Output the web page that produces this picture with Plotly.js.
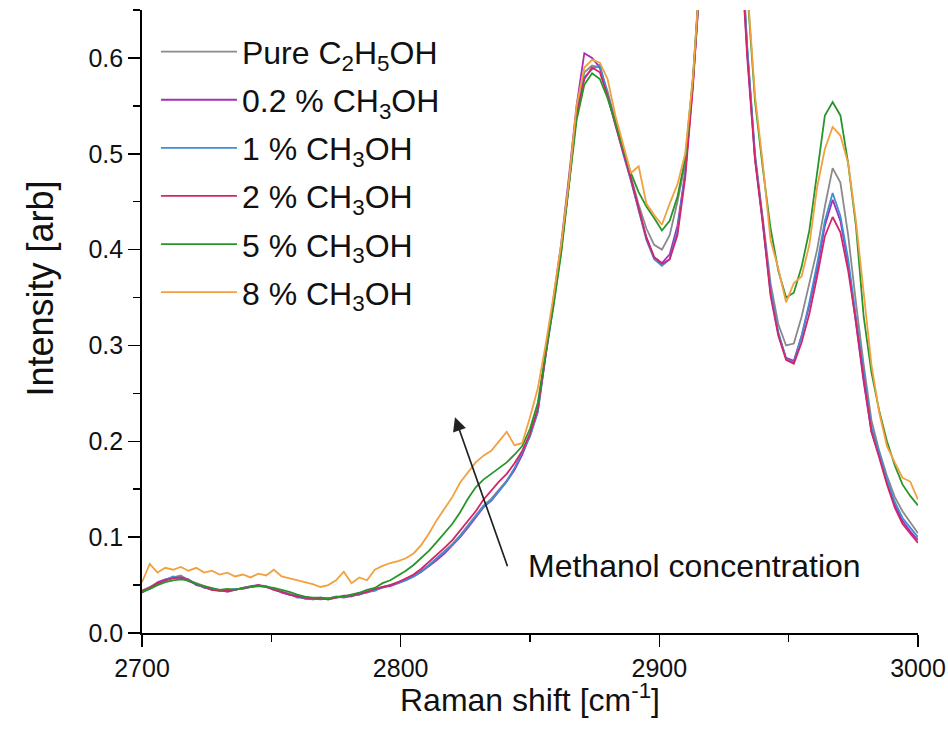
<!DOCTYPE html>
<html>
<head>
<meta charset="utf-8">
<script src="https://cdn.plot.ly/plotly-3.0.1.min.js"></script>
<style>html,body{margin:0;padding:0;background:#fff;}#chart{width:948px;height:736px;}</style>
</head>
<body>
<div id="chart"></div>
<script>
// Raman shift (cm^-1)
const ramanShift = [
2700,2703,2706,2709,2712,2715,2718,2721,2724,2727,2730,2733,2736,2739,2742,2745,2748,2751,2754,2757,2760,2763,2766,2769,2772,2775,2778,2781,2784,2787,2790,2793,2796,2799,
2802,2805,2808,2811,2814,2817,2820,2823,2826,2829,2832,2835,2838,2841,2844,2847,2850,
2853,2856,2859,2862,2865,2868,2871,2874,2877,2880,2883,2886,2889,2892,2895,2898,2901,
2904,2907,2910,2913,2916,2919,2922,2925,2928,2931,2934,2937,2940,2943,2946,2949,2952,
2955,2958,2961,2964,2967,2970,2973,2976,2979,2982,2985,2988,2991,2994,2997,3000];

const seriesNames = [
  "Pure C<sub>2</sub>H<sub>5</sub>OH",
  "0.2 % CH<sub>3</sub>OH",
  "1 % CH<sub>3</sub>OH",
  "2 % CH<sub>3</sub>OH",
  "5 % CH<sub>3</sub>OH",
  "8 % CH<sub>3</sub>OH"
];

const pureEthanol = [
0.044,0.048,0.052,0.055,0.058,0.060,0.055,0.052,0.049,0.046,0.045,0.044,0.046,0.046,0.048,0.050,0.049,0.045,0.043,0.040,0.038,0.036,0.035,0.037,0.035,0.037,0.038,0.038,0.041,0.042,0.045,0.047,0.050,0.053,
0.056,0.060,0.065,0.071,0.078,0.085,0.093,0.102,0.112,0.122,0.133,0.140,0.149,0.159,0.171,0.187,0.207,
0.232,0.290,0.345,0.400,0.468,0.545,0.585,0.592,0.590,0.565,0.535,0.505,0.476,0.447,0.422,0.405,0.400,
0.415,0.450,0.490,0.575,0.700,0.820,0.920,0.970,0.950,0.760,0.610,0.500,0.430,0.365,0.322,0.300,0.302,
0.330,0.365,0.400,0.445,0.485,0.470,0.415,0.345,0.280,0.222,0.190,0.164,0.142,0.127,0.115,0.104];

const meoh02 = [
0.042,0.047,0.053,0.056,0.058,0.058,0.056,0.050,0.048,0.045,0.045,0.043,0.045,0.047,0.049,0.050,0.048,0.046,0.042,0.040,0.039,0.036,0.036,0.035,0.036,0.038,0.037,0.039,0.040,0.043,0.045,0.048,0.049,0.052,
0.055,0.059,0.064,0.070,0.076,0.083,0.091,0.100,0.110,0.120,0.131,0.138,0.148,0.158,0.170,0.186,0.206,
0.232,0.290,0.345,0.405,0.475,0.550,0.605,0.600,0.590,0.562,0.532,0.503,0.474,0.443,0.413,0.392,0.386,
0.395,0.425,0.480,0.575,0.700,0.820,0.920,0.970,0.950,0.740,0.605,0.495,0.430,0.355,0.312,0.287,0.284,
0.310,0.342,0.380,0.425,0.452,0.430,0.385,0.325,0.262,0.210,0.185,0.157,0.134,0.117,0.106,0.097];

const meoh1 = [
0.043,0.046,0.051,0.055,0.059,0.057,0.055,0.051,0.047,0.046,0.044,0.045,0.046,0.046,0.048,0.049,0.049,0.046,0.043,0.041,0.037,0.037,0.035,0.036,0.036,0.037,0.038,0.040,0.040,0.043,0.044,0.048,0.050,0.052,
0.055,0.059,0.064,0.071,0.077,0.084,0.092,0.101,0.111,0.121,0.132,0.138,0.148,0.158,0.172,0.188,0.205,
0.230,0.288,0.340,0.398,0.468,0.542,0.580,0.588,0.593,0.562,0.530,0.500,0.472,0.440,0.410,0.390,0.383,
0.390,0.420,0.480,0.575,0.700,0.820,0.920,0.970,0.950,0.750,0.610,0.497,0.430,0.358,0.314,0.286,0.282,
0.310,0.345,0.385,0.430,0.459,0.435,0.390,0.330,0.270,0.215,0.188,0.160,0.137,0.120,0.110,0.100];

const meoh2 = [
0.044,0.047,0.052,0.055,0.057,0.058,0.054,0.051,0.048,0.045,0.044,0.044,0.045,0.047,0.048,0.050,0.048,0.045,0.043,0.040,0.038,0.037,0.036,0.036,0.035,0.037,0.039,0.039,0.041,0.043,0.046,0.048,0.050,0.053,
0.057,0.061,0.067,0.074,0.081,0.089,0.097,0.107,0.117,0.127,0.139,0.149,0.158,0.166,0.177,0.190,0.208,
0.234,0.290,0.342,0.400,0.468,0.540,0.578,0.590,0.585,0.560,0.530,0.502,0.474,0.443,0.412,0.392,0.385,
0.390,0.415,0.475,0.570,0.700,0.820,0.920,0.970,0.950,0.740,0.600,0.493,0.427,0.352,0.310,0.285,0.281,
0.303,0.333,0.372,0.414,0.434,0.418,0.378,0.325,0.265,0.210,0.183,0.155,0.131,0.114,0.104,0.094];

const meoh5 = [
0.043,0.046,0.050,0.053,0.055,0.056,0.055,0.051,0.049,0.047,0.045,0.046,0.045,0.047,0.048,0.049,0.048,0.047,0.045,0.043,0.040,0.038,0.037,0.037,0.036,0.038,0.038,0.040,0.042,0.045,0.047,0.052,0.055,0.060,
0.065,0.071,0.078,0.086,0.095,0.104,0.114,0.126,0.140,0.152,0.160,0.166,0.172,0.178,0.186,0.195,0.213,
0.240,0.292,0.340,0.395,0.462,0.535,0.572,0.584,0.578,0.558,0.532,0.505,0.480,0.460,0.445,0.433,0.420,
0.430,0.455,0.495,0.580,0.700,0.820,0.920,0.970,0.950,0.800,0.670,0.555,0.485,0.422,0.378,0.350,0.355,
0.382,0.420,0.480,0.540,0.554,0.540,0.490,0.425,0.330,0.272,0.232,0.200,0.175,0.155,0.143,0.133];

const meoh8 = [
0.053,0.072,0.063,0.068,0.066,0.069,0.065,0.068,0.063,0.065,0.061,0.063,0.059,0.061,0.058,0.062,0.060,0.066,0.059,0.057,0.055,0.053,0.051,0.048,0.050,0.055,0.064,0.052,0.058,0.055,0.066,0.070,0.073,0.075,
0.078,0.083,0.092,0.104,0.118,0.130,0.142,0.157,0.168,0.178,0.185,0.190,0.200,0.210,0.196,0.198,0.225,
0.255,0.300,0.350,0.405,0.470,0.550,0.590,0.598,0.595,0.578,0.540,0.510,0.480,0.487,0.448,0.436,0.426,
0.448,0.468,0.500,0.580,0.700,0.820,0.920,0.970,0.950,0.810,0.675,0.560,0.490,0.410,0.380,0.345,0.365,
0.372,0.405,0.465,0.505,0.528,0.519,0.490,0.430,0.355,0.280,0.230,0.195,0.178,0.162,0.158,0.139];

const seriesValues = [pureEthanol, meoh02, meoh1, meoh2, meoh5, meoh8];
const seriesColors = ["#8a8a8a", "#a52fb8", "#3d8fd6", "#d4246a", "#27962a", "#f2a040"];

const xTickVals = [2700, 2800, 2900, 3000];
const yTickVals = [0.0, 0.1, 0.2, 0.3, 0.4, 0.5, 0.6];
const xTitle = 'Raman shift [cm<sup>-1</sup>]';
const yTitle = 'Intensity [arb]';
const noteText = 'Methanol concentration';

const FONT = 'Arial, "Liberation Sans", sans-serif';

const traces = seriesValues.map((vals, i) => ({
  type: 'scatter',
  mode: 'lines',
  x: ramanShift,
  y: vals,
  name: seriesNames[i],
  legendgroup: 'g' + i,
  line: {color: seriesColors[i], width: 1.8}
}));

const layout = {
  width: 948,
  height: 736,
  margin: {l: 142, r: 30, t: 10, b: 103},
  paper_bgcolor: '#fff',
  plot_bgcolor: '#fff',
  font: {family: FONT, color: '#000', size: 24},
  showlegend: true,
  legend: {
    x: 0.018, y: 0.977, xanchor: 'left', yanchor: 'top',
    bgcolor: 'rgba(0,0,0,0)',
    font: {family: FONT, size: 32, color: '#111'},
    itemwidth: 76,
    tracegroupgap: 3.5
  },
  xaxis: {
    range: [2700, 3000],
    tickvals: xTickVals,
    ticks: 'outside', ticklen: 12, tickwidth: 1.5, tickcolor: '#000',
    showline: true, linecolor: '#000', linewidth: 1.8,
    showgrid: false, zeroline: false,
    tickfont: {family: FONT, size: 25, color: '#111'},
    minor: {dtick: 50, ticks: 'outside', ticklen: 7, tickwidth: 1.5, tickcolor: '#000', showgrid: false}
  },
  yaxis: {
    range: [0, 0.65],
    tickvals: yTickVals,
    tickformat: '.1f',
    ticks: 'outside', ticklen: 12, tickwidth: 1.5, tickcolor: '#000',
    showline: true, linecolor: '#000', linewidth: 1.8,
    showgrid: false, zeroline: false,
    tickfont: {family: FONT, size: 25, color: '#111'},
    minor: {dtick: 0.05, ticks: 'outside', ticklen: 7, tickwidth: 1.5, tickcolor: '#000', showgrid: false}
  },
  annotations: [
    {
      x: 0.5, y: -0.104, xref: 'paper', yref: 'paper',
      showarrow: false, text: xTitle,
      font: {family: FONT, size: 32, color: '#111'},
      xanchor: 'center', yanchor: 'middle'
    },
    {
      x: -0.1314, y: 0.553, xref: 'paper', yref: 'paper',
      showarrow: false, text: yTitle, textangle: -90,
      font: {family: FONT, size: 36, color: '#111'},
      xanchor: 'center', yanchor: 'middle'
    },
    {
      x: 2821, y: 0.225, xref: 'x', yref: 'y',
      ax: 2841.5, ay: 0.068, axref: 'x', ayref: 'y',
      showarrow: true, arrowhead: 2, arrowsize: 1.6, arrowwidth: 1.7, arrowcolor: '#222',
      text: ''
    },
    {
      x: 2913.5, y: 0.07, xref: 'x', yref: 'y',
      showarrow: false,
      text: noteText,
      font: {family: FONT, size: 32, color: '#111'},
      xanchor: 'center', yanchor: 'middle'
    }
  ]
};

Plotly.newPlot('chart', traces, layout, {displayModeBar: false, staticPlot: true});
</script>
</body>
</html>
